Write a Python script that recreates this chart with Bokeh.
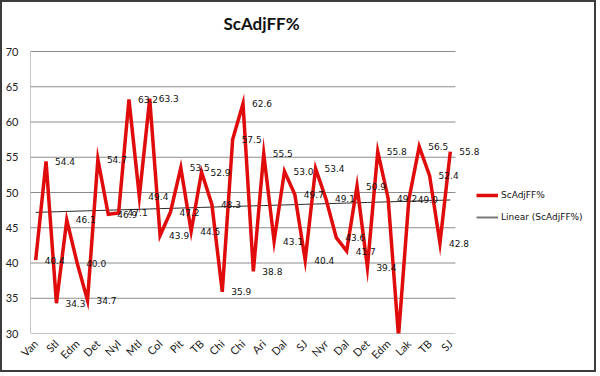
import math
import numpy as np
from bokeh.plotting import figure
from bokeh.models import (FixedTicker, Legend, LegendItem, ColumnDataSource, Label,
                          Range1d, LabelSet)
from bokeh.core.properties import value
from bokeh.embed import file_html
from bokeh.resources import INLINE

title_text = "ScAdjFF%"
series_name = "ScAdjFF%"
trend_name = "Linear (ScAdjFF%)"

# tick labels shown on every other category
tick_labels = ["Van", "Stl", "Edm", "Det", "NyI", "Mtl", "Col", "Pit", "TB", "Chi", "Chi",
               "Ari", "Dal", "SJ", "Nyr", "Dal", "Det", "Edm", "Lak", "TB", "SJ"]

values = [40.4, 54.4, 34.3, 46.1, 40.0, 34.7, 54.7, 46.9, 47.1, 63.2, 49.4, 63.3, 43.9,
          47.2, 53.5, 44.5, 52.9, 48.3, 35.9, 57.5, 62.6, 38.8, 55.5, 43.1, 53.0, 49.7,
          40.4, 53.4, 49.1, 43.6, 41.7, 50.9, 39.4, 55.8, 49.2, 29.6, 49.0, 56.5, 52.4,
          42.8, 55.8]

y_ticks = [30, 35, 40, 45, 50, 55, 60, 65, 70]

n = len(values)
idx = list(range(n))
slope, intercept = np.polyfit(idx, values, 1)
trend = [slope * i + intercept for i in idx]

src = ColumnDataSource(dict(x=idx, y=values))
lab_x = [i for i, v in zip(idx, values) if v >= y_ticks[0]]
lab_y = [v for v in values if v >= y_ticks[0]]
lab_src = ColumnDataSource(dict(x=lab_x, y=lab_y, t=["%.1f" % v for v in lab_y]))
trend_src = ColumnDataSource(dict(x=idx, y=trend))

# layout (pixels inside the 596x372 figure, which has a 2px frame around it)
W, H = 596, 372
left, bottom = 28, 41
plot_px_w = 425.0                   # width of the category area
plot_px_h = 282.0                   # height of the value area
frame_w = W - left
frame_h = H - bottom
y_lo, y_hi = y_ticks[0], y_ticks[-1]
x_end = -0.5 + frame_w * n / plot_px_w
y_end = y_lo + frame_h * (y_hi - y_lo) / plot_px_h


def px_x(px):
    return -0.5 + (px - left) * n / plot_px_w


def px_y(py):
    return y_end - py * (y_hi - y_lo) / plot_px_h


p = figure(width=W, height=H, output_backend="svg", toolbar_location=None,
           x_range=Range1d(-0.5, x_end), y_range=Range1d(y_lo, y_end),
           min_border_left=left, min_border_right=0, min_border_top=0,
           min_border_bottom=bottom)
p.styles = {"border": "2px solid #3c3c3c"}
p.outline_line_color = None
p.background_fill_color = "white"
p.border_fill_color = "white"

grid_col = "#8c8c8c"
p.xgrid.visible = False
p.ygrid.visible = False
# horizontal gridlines only across the category area, and the value-axis line
p.segment(x0=[-0.5] * len(y_ticks), x1=[n - 0.5] * len(y_ticks), y0=y_ticks, y1=y_ticks,
          line_color=grid_col, line_width=1)
p.segment(x0=[-0.5], x1=[-0.5], y0=[y_lo], y1=[y_hi], line_color=grid_col, line_width=1)

p.yaxis.ticker = FixedTicker(ticks=y_ticks)
p.yaxis.axis_line_color = None
p.yaxis.major_tick_line_color = None
p.yaxis.minor_tick_line_color = None
p.yaxis.major_tick_out = 0
p.yaxis.major_tick_in = 0
p.yaxis.major_label_standoff = 12
p.yaxis.major_label_text_font = "Lato"
p.yaxis.major_label_text_font_size = "11px"
p.yaxis.major_label_text_color = "#222222"

even = list(range(0, n, 2))
p.xaxis.ticker = FixedTicker(ticks=even)
p.xaxis.major_label_overrides = {i: lab for i, lab in zip(even, tick_labels)}
p.xaxis.major_label_orientation = math.pi / 4
p.xaxis.axis_line_color = None
p.xaxis.major_tick_line_color = None
p.xaxis.minor_tick_line_color = None
p.xaxis.major_tick_out = 0
p.xaxis.major_tick_in = 0
p.xaxis.major_label_standoff = 8
p.xaxis.major_label_text_font = "Lato"
p.xaxis.major_label_text_font_size = "11px"
p.xaxis.major_label_text_color = "#222222"

r_trend = p.line("x", "y", source=trend_src, line_color="#2a2a2a", line_width=1)
r_main = p.line("x", "y", source=src, line_color="#e00b0b", line_width=3.5,
                line_join="miter")
# legend swatch for the trendline (Excel shows it grey and slightly thicker)
r_trend_key = p.line(x=[float("nan")], y=[float("nan")], line_color="#7a7a7a",
                     line_width=2)

labels = LabelSet(x="x", y="y", text="t", source=lab_src, x_offset=9,
                  text_baseline="middle", text_align="left",
                  text_font=value("DejaVu Sans"), text_font_size="9px", text_color="#111111")
p.add_layout(labels)

p.add_layout(Label(x=px_x(259), y=px_y(21), text=title_text, text_align="center",
                   text_baseline="middle", text_font="Lato", text_font_size="17px",
                   text_font_style="bold", text_color="#111111"))

legend = Legend(items=[LegendItem(label=series_name, renderers=[r_main]),
                       LegendItem(label=trend_name, renderers=[r_trend_key])],
                location=(446, 106), padding=0, margin=0, spacing=2,
                border_line_color=None, background_fill_alpha=0,
                label_text_font="DejaVu Sans", label_text_font_size="9px",
                label_text_color="#111111", glyph_width=22, label_standoff=3)
p.add_layout(legend, "center")

open("out.html", "w").write(file_html(p, INLINE))
